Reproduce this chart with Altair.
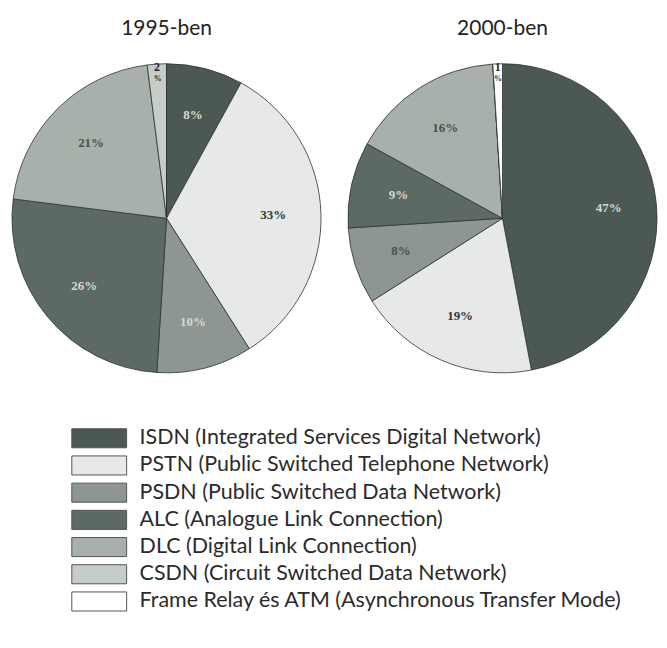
import altair as alt
import pandas as pd

# ---- data ----
years = ["1995-ben", "2000-ben"]
codes = ["ISDN", "PSTN", "PSDN", "ALC", "DLC", "CSDN", "FRATM"]
names = [
    "ISDN (Integrated Services Digital Network)",
    "PSTN (Public Switched Telephone Network)",
    "PSDN (Public Switched Data Network)",
    "ALC (Analogue Link Connection)",
    "DLC (Digital Link Connection)",
    "CSDN (Circuit Switched Data Network)",
    "Frame Relay és ATM (Asynchronous Transfer Mode)",
]
share_1995 = [8, 33, 10, 26, 21, 2, 0]
share_2000 = [47, 19, 8, 9, 16, 0, 1]
colors = ["#4c5853", "#e7e9e6", "#8d9691", "#5d6964", "#a8b0ac", "#c6ccc8", "#ffffff"]

rows = []
for y, vals in zip(years, [share_1995, share_2000]):
    for i, (c, v) in enumerate(zip(codes, vals)):
        rows.append({"year": y, "cat": c, "idx": i, "value": v})
df = pd.DataFrame(rows)
legend_df = pd.DataFrame({"cat": codes, "name": names, "idx": list(range(len(codes)))})

color_scale = alt.Scale(domain=codes, range=colors)
R = 155

light_pred = (
    (alt.datum.cat == "ISDN")
    | (alt.datum.cat == "ALC")
    | ((alt.datum.cat == "PSDN") & (alt.datum.year == "1995-ben"))
)
mid_pred = (alt.datum.cat == "DLC") | (alt.datum.cat == "PSDN")


def pie(year, w):
    base = alt.Chart(df).transform_filter(alt.datum.year == year).transform_calculate(
        big="datum.value >= 3 ? datum.value + '%' : ''",
        num="datum.value > 0 && datum.value < 3 ? datum.value + '' : ''",
        pct="datum.value > 0 && datum.value < 3 ? '%' : ''",
    )
    theta = alt.Theta("value:Q", stack=True)
    order = alt.Order("idx:Q", sort="ascending")
    arcs = base.mark_arc(outerRadius=R, stroke="#2e3431", strokeWidth=0.8).encode(
        theta=theta,
        order=order,
        color=alt.Color("cat:N", scale=color_scale, legend=None),
    )
    txt_color = (
        alt.when(light_pred)
        .then(alt.value("#d4d8d5"))
        .when(mid_pred)
        .then(alt.value("#4a504d"))
        .otherwise(alt.value("#333635"))
    )
    big = base.mark_text(
        radius=107, font="Liberation Serif", fontWeight="bold", fontSize=13
    ).encode(theta=theta, order=order, text="big:N", color=txt_color)
    num = base.mark_text(
        radius=152, font="Liberation Serif", fontWeight="bold", fontSize=12
    ).encode(theta=theta, order=order, text="num:N", color=alt.value("#2a2a2a"))
    pct = base.mark_text(
        radius=140, font="Liberation Serif", fontWeight="bold", fontSize=8
    ).encode(theta=theta, order=order, text="pct:N", color=alt.value("#2a2a2a"))
    return alt.layer(arcs, big, num, pct).properties(
        width=w,
        height=340,
        title=alt.TitleParams(
            year, fontSize=21, font="Lato", fontWeight="normal", color="#222222", offset=10
        ),
    )


p1 = pie(years[0], 318)
p2 = pie(years[1], 312)

ybase = alt.Y(
    "cat:N", sort=codes, axis=None, scale=alt.Scale(paddingInner=0.3, paddingOuter=0.15)
)
leg = alt.Chart(legend_df).properties(width=651, height=191)
swatch = leg.mark_rect(stroke="#555555", strokeWidth=1).encode(
    y=ybase,
    x=alt.value(64),
    x2=alt.value(119),
    color=alt.Color("cat:N", scale=color_scale, legend=None),
)
label = leg.mark_text(
    align="left", baseline="middle", font="Lato", fontSize=21.5, color="#2b2b2b"
).encode(y=ybase, x=alt.value(132), text="name:N")
legend = alt.layer(swatch, label)

chart = (
    alt.vconcat(alt.hconcat(p1, p2, spacing=21), legend, spacing=37)
    .properties(padding={"top": 9, "left": 0, "right": 0, "bottom": 0})
    .configure_view(stroke=None)
)

chart.save("out.html", embed_options={"renderer": "svg", "actions": False})
